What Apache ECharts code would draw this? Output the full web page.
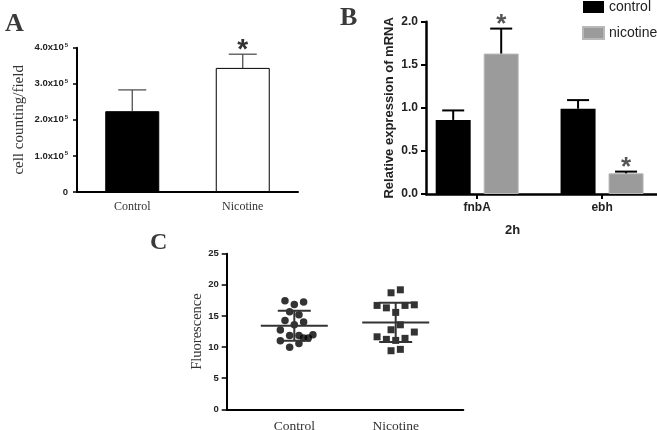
<!DOCTYPE html>
<html><head><meta charset="utf-8">
<script src="https://cdn.jsdelivr.net/npm/echarts@6/dist/echarts.min.js"></script>
<style>html,body{margin:0;padding:0;background:#fff}#c{width:657px;height:430px}</style>
</head><body><div id="c"></div>
<script>
// ---------- Panel A data ----------
const aCategories = ['Control', 'Nicotine'];
const aMeans = [2.24e5, 3.44e5];
const aErrors = [0.59e5, 0.38e5];
const aSignificant = [false, true];
const aFill = ['#000000', '#ffffff'];

// ---------- Panel B data ----------
const bGenes = ['fnbA', 'ebh'];
const bSeriesNames = ['control', 'nicotine'];
const bControl = [0.86, 0.99];
const bControlErr = [0.11, 0.10];
const bNicotine = [1.63, 0.24];
const bNicotineErr = [0.29, 0.02];
const bControlSig = [false, false];
const bNicotineSig = [true, true];

// ---------- Panel C data ----------
const cCategories = ['Control', 'Nicotine'];
const cControl = [17.43, 16.85, 17.22, 15.67, 15.19, 14.28, 13.58, 14.01, 12.73, 11.87, 11.87, 11.44, 11.44, 11.97, 11.01, 10.59, 9.95];
const cControlCols = [-2, 0, 2, -1, 1, -2, 0, 2, -3, -1, 1, 2, 3, 4, -3, 1, -1];
const cNicotine = [18.72, 19.2, 16.69, 16.3, 16.69, 16.79, 15.57, 13.58, 12.78, 12.41, 11.65, 11.24, 11.07, 11.4, 9.41, 9.63];
const cNicotineCols = [-1, 1, -4, -2, 2, 4, 0, 1, -1, 4, -4, -2, 0, 2, -1, 1];
const cMean = [13.42, 13.96];
const cSD = [2.41, 3.15];

// ---------- styles ----------
const SERIF = '"Liberation Serif", "Times New Roman", serif';
const SANS = '"Liberation Sans", Arial, sans-serif';
const colStep = 0.0459;     // horizontal spacing of dot columns (axis units)
const bBarWidth = 35, bGapPx = 13;

const chart = echarts.init(document.getElementById('c'), null, {renderer: 'canvas'});

function errRender(color, stemW, capHalf, starSize, starColor, pxOffset) {
  return function (params, api) {
    const x = api.value(0), y = api.value(1), e = api.value(2), sig = api.value(3);
    const b = api.coord([x, y]);
    const t = api.coord([x, y + e]);
    const cx = b[0] + pxOffset;
    const children = [
      {type: 'line', shape: {x1: cx, y1: b[1], x2: cx, y2: t[1]}, style: {stroke: color, lineWidth: stemW}},
      {type: 'line', shape: {x1: cx - capHalf, y1: t[1], x2: cx + capHalf, y2: t[1]}, style: {stroke: color, lineWidth: stemW}}
    ];
    if (sig) {
      children.push({type: 'text', x: cx, y: t[1] - 4, style: {text: '*', fill: starColor, font: 'bold ' + starSize + 'px ' + SANS, align: 'center', verticalAlign: 'middle'}});
    }
    return {type: 'group', children};
  };
}

const option = {
  animation: false,
  backgroundColor: '#ffffff',
  title: [
    {text: 'A', left: 0, top: 6, textStyle: {fontFamily: SERIF, fontWeight: 'bold', fontSize: 26, color: '#3a3a3a'}},
    {text: 'B', left: 335, top: 0, textStyle: {fontFamily: SERIF, fontWeight: 'bold', fontSize: 26, color: '#3a3a3a'}},
    {text: 'C', left: 145, top: 226, textStyle: {fontFamily: SERIF, fontWeight: 'bold', fontSize: 24, color: '#3a3a3a'}},
    {text: '2h', left: 500, top: 219, textStyle: {fontFamily: SANS, fontWeight: 'bold', fontSize: 13, color: '#222'}}
  ],
  legend: {
    data: bSeriesNames, orient: 'vertical', left: 577, top: -5,
    itemWidth: 21, itemHeight: 12, itemGap: 12, icon: 'rect',
    textStyle: {fontFamily: SANS, fontSize: 14, color: '#222'}
  },
  grid: [
    {left: 77, right: 359, top: 47.7, bottom: 238, outerBoundsMode: 'none'},
    {left: 426, right: 0, top: 21.7, bottom: 236, outerBoundsMode: 'none'},
    {left: 226.7, right: 193.7, top: 253.7, bottom: 20.7, outerBoundsMode: 'none'}
  ],
  xAxis: [
    {gridIndex: 0, type: 'category', data: aCategories,
      axisLine: {lineStyle: {color: '#000', width: 2}},
      axisTick: {alignWithLabel: true, length: 5, lineStyle: {color: '#000', width: 1.5}},
      axisLabel: {fontFamily: SERIF, fontSize: 12, color: '#333', margin: 9}},
    {gridIndex: 1, type: 'value', min: -0.41, max: 1.44,
      axisLine: {onZero: false, lineStyle: {color: '#000', width: 2.5}},
      axisTick: {customValues: [0, 1], length: 5, lineStyle: {color: '#000', width: 2}},
      axisLabel: {customValues: [0, 1], formatter: v => bGenes[Math.round(v)], fontFamily: SANS, fontWeight: 'bold', fontSize: 12, color: '#222', margin: 8},
      splitLine: {show: false}},
    {gridIndex: 2, type: 'value', min: -2 / 3, max: 5 / 3,
      axisLine: {onZero: false, lineStyle: {color: '#000', width: 2}},
      axisTick: {show: false},
      axisLabel: {customValues: [0, 1], formatter: v => cCategories[Math.round(v)], fontFamily: SERIF, fontSize: 13.5, color: '#333', margin: 10},
      splitLine: {show: false}}
  ],
  yAxis: [
    {gridIndex: 0, type: 'value', min: 0, max: 4e5, interval: 1e5,
      name: 'cell counting/field', nameLocation: 'middle', nameGap: 50, nameRotate: 90, nameMoveOverlap: false,
      nameTextStyle: {fontFamily: SERIF, fontSize: 15, color: '#333'},
      axisLine: {show: true, onZero: false, lineStyle: {color: '#000', width: 2}},
      axisTick: {show: true, length: 4, lineStyle: {color: '#000', width: 1.5}},
      axisLabel: {margin: 9, fontFamily: SANS, fontWeight: 'bold', fontSize: 9.5, color: '#222',
        formatter: v => v === 0 ? '0' : (v / 1e5).toFixed(1) + 'x10{s|5}',
        rich: {s: {fontFamily: SANS, fontWeight: 'bold', fontSize: 6, color: '#222', verticalAlign: 'top', padding: [0, 0, 5, 1]}}},
      splitLine: {show: false}},
    {gridIndex: 1, type: 'value', min: 0, max: 2, interval: 0.5,
      name: 'Relative expression of mRNA', nameLocation: 'middle', nameGap: 30, nameRotate: 90,
      nameTextStyle: {fontFamily: SANS, fontWeight: 'bold', fontSize: 13, color: '#222'},
      axisLine: {show: true, onZero: false, lineStyle: {color: '#000', width: 2.5}},
      axisTick: {show: true, length: 5, lineStyle: {color: '#000', width: 2}},
      axisLabel: {margin: 8, fontFamily: SANS, fontWeight: 'bold', fontSize: 12, color: '#222', formatter: v => v.toFixed(1)},
      splitLine: {show: false}},
    {gridIndex: 2, type: 'value', min: 0, max: 25, interval: 5,
      name: 'Fluorescence', nameLocation: 'middle', nameGap: 22, nameRotate: 90,
      nameTextStyle: {fontFamily: SERIF, fontSize: 14.5, color: '#333'},
      axisLine: {show: true, onZero: false, lineStyle: {color: '#000', width: 2}},
      axisTick: {show: true, length: 5, lineStyle: {color: '#000', width: 1.5}},
      axisLabel: {margin: 8, fontFamily: SANS, fontWeight: 'bold', fontSize: 9.5, color: '#222'},
      splitLine: {show: false}}
  ],
  series: [
    // Panel A bars
    {type: 'bar', xAxisIndex: 0, yAxisIndex: 0, barWidth: 54,
      data: aMeans.map((v, i) => ({value: v, itemStyle: {color: aFill[i], borderColor: '#000', borderWidth: 1}}))},
    {type: 'custom', xAxisIndex: 0, yAxisIndex: 0, z: 5,
      renderItem: errRender('#444', 1.2, 14, 28, '#333', 0),
      encode: {x: 0, y: 1},
      data: aMeans.map((v, i) => [i, v, aErrors[i], aSignificant[i] ? 1 : 0])},
    // Panel B bars
    {name: bSeriesNames[0], type: 'bar', xAxisIndex: 1, yAxisIndex: 1, barWidth: bBarWidth, barGap: (bGapPx / bBarWidth * 100) + '%',
      itemStyle: {color: '#000'},
      data: bControl.map((v, i) => [i, v])},
    {name: bSeriesNames[1], type: 'bar', xAxisIndex: 1, yAxisIndex: 1, barWidth: bBarWidth,
      itemStyle: {color: '#9b9b9b', borderColor: '#b8b8b8', borderWidth: 1},
      data: bNicotine.map((v, i) => [i, v])},
    {type: 'custom', xAxisIndex: 1, yAxisIndex: 1, z: 5,
      renderItem: errRender('#000', 2, 11, 26, '#555', -(bBarWidth + bGapPx) / 2),
      encode: {x: 0, y: 1},
      data: bControl.map((v, i) => [i, v, bControlErr[i], bControlSig[i] ? 1 : 0])},
    {type: 'custom', xAxisIndex: 1, yAxisIndex: 1, z: 5,
      renderItem: errRender('#000', 2, 11, 26, '#555', (bBarWidth + bGapPx) / 2),
      encode: {x: 0, y: 1},
      data: bNicotine.map((v, i) => [i, v, bNicotineErr[i], bNicotineSig[i] ? 1 : 0])},
    // Panel C dots
    {type: 'scatter', xAxisIndex: 2, yAxisIndex: 2, symbol: 'circle', symbolSize: 7.5,
      itemStyle: {color: '#000'},
      data: cControl.map((v, i) => [0 + cControlCols[i] * colStep, v])},
    {type: 'scatter', xAxisIndex: 2, yAxisIndex: 2, symbol: 'rect', symbolSize: 7,
      itemStyle: {color: '#000'},
      data: cNicotine.map((v, i) => [1 + cNicotineCols[i] * colStep, v])},
    {type: 'custom', xAxisIndex: 2, yAxisIndex: 2, z: 6,
      encode: {x: 0, y: 1},
      renderItem: function (params, api) {
        const x = api.value(0), m = api.value(1), sd = api.value(2);
        const pm = api.coord([x, m]), ph = api.coord([x, m + sd]), pl = api.coord([x, m - sd]);
        const st = {stroke: '#333', lineWidth: 2};
        return {type: 'group', children: [
          {type: 'line', shape: {x1: pm[0] - 33.5, y1: pm[1], x2: pm[0] + 33.5, y2: pm[1]}, style: st},
          {type: 'line', shape: {x1: ph[0], y1: ph[1], x2: pl[0], y2: pl[1]}, style: st},
          {type: 'line', shape: {x1: ph[0] - 16.5, y1: ph[1], x2: ph[0] + 16.5, y2: ph[1]}, style: st},
          {type: 'line', shape: {x1: pl[0] - 16.5, y1: pl[1], x2: pl[0] + 16.5, y2: pl[1]}, style: st}
        ]};
      },
      data: cMean.map((m, i) => [i, m, cSD[i]])}
  ]
};
chart.setOption(option);
</script>
</body></html>
